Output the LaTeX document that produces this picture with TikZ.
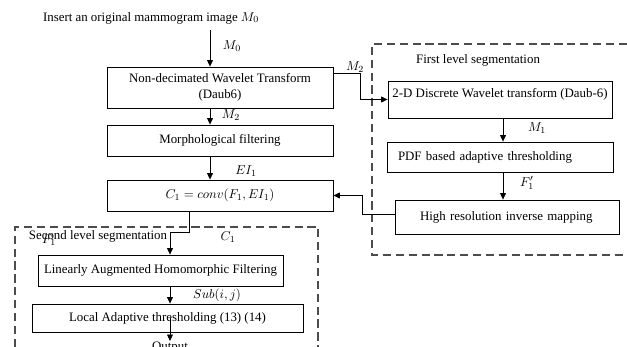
\documentclass[tikz,border=0pt]{standalone}
\usepackage{fontspec}
\setmainfont{Liberation Serif}
\usetikzlibrary{arrows.meta}

\begin{document}
\begin{tikzpicture}[x=0.03cm,y=-0.03cm,
      font=\fontsize{11}{13.5}\selectfont,
      stage/.style={draw,line width=0.7pt,inner sep=2pt},
      tag/.style={inner sep=1pt},
      flow/.style={line width=0.6pt,-{Triangle[length=5.5pt,width=5pt]}},
      frame/.style={draw=black!70,line width=1pt,dash pattern=on 7pt off 4pt}]

  \useasboundingbox (0,0) rectangle (627,347);

  % dashed frames of the two segmentation levels
  \draw[frame] (627,44) -- (372,44) -- (372,255) -- (627,255);
  \draw[frame] (15,347) -- (15,227) -- (318,227) -- (318,347);
  \node[tag] (first) at (478,60) {First level segmentation};
  \node[tag] (second) at (98,236) {Second level segmentation};

  % main column
  \node[tag] (input) at (151,18) {Insert an original mammogram image $M_0$};
  \node[stage,minimum width=6.78cm,minimum height=1.23cm,align=center] (nd) at (220,87.5)
    {Non-decimated Wavelet Transform\\(Daub6)};
  \node[stage,minimum width=6.78cm,minimum height=0.93cm] (morph) at (220,140.5)
    {Morphological filtering};
  \node[stage,minimum width=6.78cm,minimum height=0.93cm] (conv) at (220,195.5)
    {$C_1 = conv(F_1, EI_1)$};

  % first level
  \node[stage,minimum width=6.72cm,minimum height=1.11cm,inner ysep=1pt,
        text height=7.5pt,text depth=11.7pt] (dwt) at (500,99.5)
    {2-D Discrete Wavelet transform (Daub-6)};
  \node[stage,minimum width=6.78cm,minimum height=0.9cm,inner xsep=0.33cm,
        text width=6.12cm,align=left] (pdf) at (500,157)
    {PDF based adaptive thresholding};
  \node[stage,minimum width=6.72cm,minimum height=1.02cm,inner xsep=0.75cm,
        text width=5.22cm,align=left] (high) at (507,217)
    {High resolution inverse mapping};

  % second level
  \node[stage,minimum width=7.35cm,minimum height=0.93cm] (lah) at (160.5,270.5)
    {Linearly Augmented Homomorphic Filtering};
  \node[stage,minimum width=8.13cm,minimum height=0.84cm] (loc) at (167.5,318)
    {Local Adaptive thresholding (13) (14)};
  \node[tag,anchor=north] (out) at (170,341) {Output};

  % connectors
  \coordinate (feed) at (210,30);
  \coordinate (drop) at (503,0);
  \coordinate (spine) at (170,0);
  \draw[flow] (feed) -- (feed |- nd.north);
  \draw[flow] (nd.south -| feed) -- (morph.north -| feed);
  \draw[flow] (morph.south -| feed) -- (conv.north -| feed);
  \draw[flow] (nd.north east) ++(0,7) -- ++(27,0) |- (dwt.west);
  \draw[flow] (dwt.south -| drop) -- (pdf.north -| drop);
  \draw[flow] (pdf.south -| drop) -- (high.north -| drop);
  \draw[flow] (high.west) ++(0,-3) -- ++(-32,0) |- (conv.east);
  \draw[flow] (conv.south) ++(-31,0) -- ++(0,21) -| (lah.north -| spine);
  \draw[flow] (lah.south -| spine) -- (loc.north -| spine);
  \draw[flow] (loc.center -| spine) -- (out.north);

  % signal labels
  \node[tag] (m0) at (232,46) {$M_0$};
  \node[tag] (m2a) at (231,115) {$M_2$};
  \node[tag] (ei1) at (246,171) {$EI_1$};
  \node[tag] (m2b) at (355,67) {$M_2$};
  \node[tag] (m1) at (537,128) {$M_1$};
  \node[tag] (f1p) at (527,183) {$F_1'$};
  \node[tag] (c1) at (228,237) {$C_1$};
  \node[tag] (f1) at (49,240) {$F_1$};
  \node[tag] (sub) at (217,295) {$Sub(i,j)$};

\end{tikzpicture}
\end{document}
